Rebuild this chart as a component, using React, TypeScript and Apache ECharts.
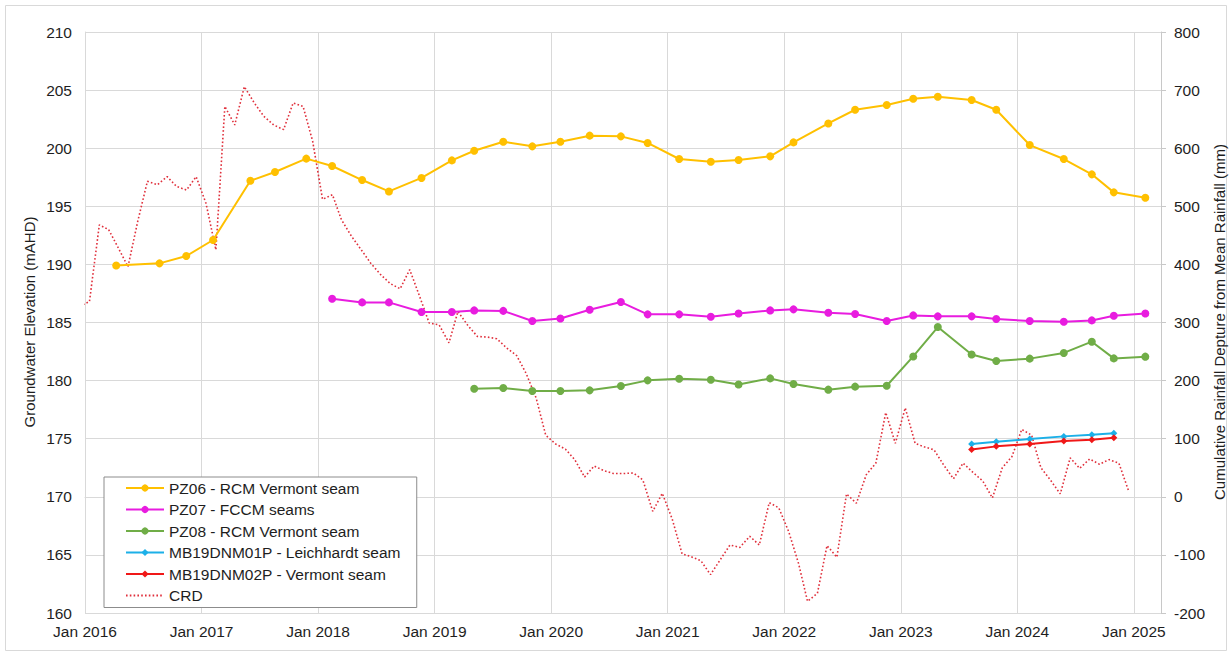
import React, { useEffect, useRef } from "react";
import * as echarts from "echarts";

// Monitoring round dates (groundwater level readings)
const roundDates = [
  "2016-04-08", "2016-08-22", "2016-11-14", "2017-02-06", "2017-06-03", "2017-08-19",
  "2017-11-25", "2018-02-14", "2018-05-19", "2018-08-11", "2018-11-21", "2019-02-24",
  "2019-05-05", "2019-08-04", "2019-11-03", "2020-01-30", "2020-05-01", "2020-08-07",
  "2020-10-30", "2021-02-06", "2021-05-16", "2021-08-11", "2021-11-18", "2022-01-30",
  "2022-05-19", "2022-08-11", "2022-11-18", "2023-02-09", "2023-04-27", "2023-08-11",
  "2023-10-27", "2024-02-09", "2024-05-26", "2024-08-22", "2024-10-30", "2025-02-06",
];

// Groundwater elevation (mAHD) per monitoring round; null = not monitored
const pz06 = [
  189.9, 190.09, 190.72, 192.1, 197.2, 197.95, 199.1, 198.47, 197.26, 196.28, 197.44, 198.95,
  199.78, 200.56, 200.16, 200.56, 201.08, 201.02, 200.45, 199.07, 198.84, 198.98, 199.3, 200.5,
  202.13, 203.31, 203.72, 204.26, 204.43, 204.15, 203.31, 200.27, 199.07, 197.75, 196.2, 195.74,
];
const pz07 = [
  null, null, null, null, null, null, null, 187.05, 186.73, 186.73, 185.9, 185.9,
  186.04, 186.0, 185.13, 185.35, 186.1, 186.76, 185.7, 185.7, 185.5, 185.78, 186.04, 186.13,
  185.84, 185.73, 185.13, 185.61, 185.53, 185.53, 185.3, 185.13, 185.07, 185.18, 185.58, 185.78,
];
const pz08 = [
  null, null, null, null, null, null, null, null, null, null, null, null,
  179.3, 179.36, 179.1, 179.1, 179.16, 179.53, 180.02, 180.16, 180.08, 179.67, 180.19, 179.71,
  179.22, 179.48, 179.56, 182.08, 184.61, 182.25, 181.69, 181.89, 182.38, 183.35, 181.91, 182.06,
];
const mb01 = [
  null, null, null, null, null, null, null, null, null, null, null, null,
  null, null, null, null, null, null, null, null, null, null, null, null,
  null, null, null, null, null, 174.54, 174.74, 174.97, 175.2, 175.34, 175.46, null,
];
const mb02 = [
  null, null, null, null, null, null, null, null, null, null, null, null,
  null, null, null, null, null, null, null, null, null, null, null, null,
  null, null, null, null, null, 174.08, 174.34, 174.54, 174.8, 174.91, 175.08, null,
];

// Cumulative rainfall departure from mean (mm), monthly from Dec 2015
const crdStart = { year: 2015, month: 11 };
const crdValues = [
  328,
  336, 468, 460, 428, 396, 475, 543, 537, 551, 534, 528, 551,
  505, 425, 672, 640, 706, 678, 655, 640, 632, 678, 672, 612,
  512, 520, 477, 449, 426, 402, 383, 367, 358, 391, 345, 299,
  296, 265, 319, 295, 276, 275, 272, 256, 243, 212, 170, 106,
  91, 82, 64, 34, 53, 45, 40, 40, 41, 29, -25, 6,
  -38, -98, -103, -110, -134, -108, -83, -87, -68, -83, -10, -19,
  -60, -115, -180, -166, -84, -104, 5, -11, 38, 58, 145, 92,
  153, 92, 86, 81, 55, 31, 58, 42, 27, -2, 50, 69,
  116, 106, 50, 28, 5, 67, 49, 65, 56, 64, 58, 11,
];

const legendNames = [
  "PZ06 - RCM Vermont seam",
  "PZ07 - FCCM seams",
  "PZ08 - RCM Vermont seam",
  "MB19DNM01P - Leichhardt seam",
  "MB19DNM02P - Vermont seam",
  "CRD",
];

// Axis settings
const xMinYear = 2016;
const xMaxYear = 2025.233;
const leftMin = 160;
const leftMax = 210;
const leftStep = 5;
const rightMin = -200;
const rightMax = 800;
const rightStep = 100;

const FONT = "'Liberation Sans', Arial, sans-serif";
const TEXT = "#1e1e1e";
const GRID = "#d9d9d9";

function yearFraction(y: number, m: number, d: number): number {
  const t = Date.UTC(y, m, d);
  const a = Date.UTC(y, 0, 1);
  const b = Date.UTC(y + 1, 0, 1);
  return y + (t - a) / (b - a);
}

function isoToYear(s: string): number {
  const [y, m, d] = s.split("-").map(Number);
  return yearFraction(y, m - 1, d);
}

function roundSeries(values: (number | null)[]): [number, number][] {
  const out: [number, number][] = [];
  values.forEach((v, i) => {
    if (v !== null) out.push([isoToYear(roundDates[i]), v]);
  });
  return out;
}

function crdSeries(): [number, number][] {
  return crdValues.map((v, k) => {
    const mIdx = crdStart.month + k;
    const y = crdStart.year + Math.floor(mIdx / 12);
    const m = mIdx % 12;
    return [yearFraction(y, m, 15), v];
  });
}

export default function App() {
  const ref = useRef<HTMLDivElement>(null);

  useEffect(() => {
    if (!ref.current) return;
    const chart = echarts.init(ref.current, undefined, { renderer: "svg" });

    const wellSeries = (name: string, values: (number | null)[], color: string, symbol: string, size: number) => ({
      name,
      type: "line",
      yAxisIndex: 0,
      data: roundSeries(values),
      symbol,
      symbolSize: size,
      showSymbol: true,
      lineStyle: { color, width: 2 },
      itemStyle: { color, borderWidth: 0 },
      z: 3,
    });

    chart.setOption({
      animation: false,
      backgroundColor: "#ffffff",
      textStyle: { fontFamily: FONT },
      grid: {
        left: 85,
        right: 71,
        top: 32,
        bottom: 43,
        containLabel: false,
        outerBoundsMode: "none",
      },
      legend: {
        orient: "vertical",
        left: 104,
        top: 477,
        itemWidth: 38,
        itemHeight: 9,
        itemGap: 5.5,
        padding: [3, 16, 4, 21],
        backgroundColor: "#ffffff",
        borderColor: "#8c8c8c",
        borderWidth: 1,
        textStyle: { fontFamily: FONT, fontSize: 15.5, color: TEXT, lineHeight: 16 },
        data: legendNames.map((name) =>
          name === "CRD"
            ? { name, itemStyle: { color: "rgba(0,0,0,0)", opacity: 0, borderWidth: 0 } }
            : { name }
        ),
        z: 10,
      },
      xAxis: {
        type: "value",
        min: xMinYear,
        max: xMaxYear,
        interval: 1,
        axisLine: { show: true, lineStyle: { color: GRID, width: 1 } },
        axisTick: { show: false },
        axisLabel: {
          margin: 10,
          fontSize: 15.5,
          color: TEXT,
          fontFamily: FONT,
          showMaxLabel: false,
          formatter: (v: number) => (Math.abs(v - Math.round(v)) < 1e-6 ? "Jan " + Math.round(v) : ""),
        },
        splitLine: { show: true, lineStyle: { color: GRID, width: 1 } },
      },
      yAxis: [
        {
          type: "value",
          position: "left",
          min: leftMin,
          max: leftMax,
          interval: leftStep,
          axisLine: { show: true, lineStyle: { color: GRID, width: 1 } },
          axisTick: { show: false },
          axisLabel: { margin: 13, fontSize: 15.5, color: TEXT, fontFamily: FONT },
          splitLine: { show: true, lineStyle: { color: GRID, width: 1 } },
        },
        {
          type: "value",
          position: "right",
          min: rightMin,
          max: rightMax,
          interval: rightStep,
          axisLine: { show: true, lineStyle: { color: "#c8c8c8", width: 1 } },
          axisTick: { show: true, length: 5, inside: false, lineStyle: { color: "#c8c8c8" } },
          axisLabel: { margin: 13, fontSize: 15.5, color: TEXT, fontFamily: FONT },
          splitLine: { show: false },
        },
      ],
      graphic: [
        {
          type: "rect",
          silent: true,
          shape: { x: 5.5, y: 5.5, width: 1221, height: 645 },
          style: { fill: "none", stroke: "#d9d9d9", lineWidth: 1 },
          z: -1,
        },
        {
          type: "text",
          x: 29,
          y: 322,
          rotation: Math.PI / 2,
          style: {
            text: "Groundwater Elevation (mAHD)",
            fontSize: 15,
            fontFamily: FONT,
            fill: TEXT,
            textAlign: "center",
            textVerticalAlign: "middle",
          },
        },
        {
          type: "text",
          x: 1219,
          y: 322,
          rotation: Math.PI / 2,
          style: {
            text: "Cumulative Rainfall Depture from Mean Rainfall (mm)",
            fontSize: 15,
            fontFamily: FONT,
            fill: TEXT,
            textAlign: "center",
            textVerticalAlign: "middle",
          },
        },
      ],
      series: [
        wellSeries("PZ06 - RCM Vermont seam", pz06, "#FFC000", "circle", 8),
        wellSeries("PZ07 - FCCM seams", pz07, "#E81CDF", "circle", 8),
        wellSeries("PZ08 - RCM Vermont seam", pz08, "#70AD47", "circle", 8),
        wellSeries("MB19DNM01P - Leichhardt seam", mb01, "#1CB0E8", "diamond", 7),
        wellSeries("MB19DNM02P - Vermont seam", mb02, "#F01818", "diamond", 7),
        {
          name: "CRD",
          type: "line",
          yAxisIndex: 1,
          data: crdSeries(),
          symbol: "none",
          showSymbol: false,
          clip: true,
          lineStyle: { color: "#E0303C", width: 1.6, type: [1.6, 2.2] },
          itemStyle: { color: "#E0303C" },
          z: 2,
        },
      ],
    });

    return () => chart.dispose();
  }, []);

  return (
    <div
      ref={ref}
      style={{ position: "absolute", left: 0, top: 0, width: 1232, height: 656 }}
    />
  );
}
